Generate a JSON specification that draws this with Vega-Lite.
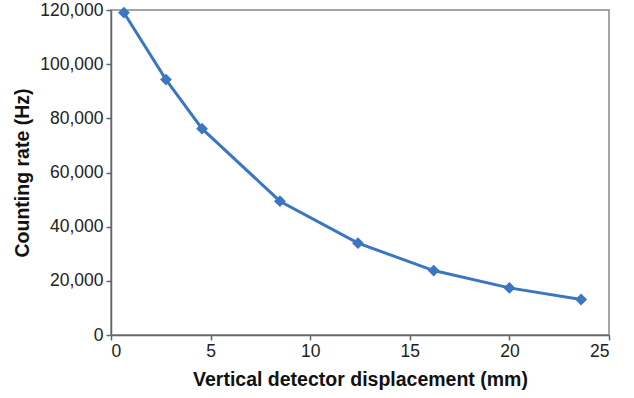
{
  "$schema": "https://vega.github.io/schema/vega-lite/v6.json",
  "autosize": "none",
  "padding": {"left": 111, "top": 10, "right": 25, "bottom": 63},
  "width": 498,
  "height": 325,
  "background": "white",
  "config": {
    "view": {"stroke": "#888888", "strokeWidth": 1.5},
    "axis": {
      "grid": false,
      "domainColor": "#666666",
      "domainWidth": 1.5,
      "tickColor": "#666666",
      "tickWidth": 1.5,
      "tickSize": 5,
      "labelFont": "Liberation Sans",
      "labelFontSize": 17.5,
      "labelColor": "#222222",
      "titleFont": "Liberation Sans",
      "titleFontSize": 19.5,
      "titleFontWeight": "bold",
      "titleColor": "#111111"
    }
  },
  "data": {
    "values": [
      {"x": 0.65, "y": 119000},
      {"x": 2.76, "y": 94300},
      {"x": 4.57, "y": 76200},
      {"x": 8.48, "y": 49400},
      {"x": 12.4, "y": 33900},
      {"x": 16.2, "y": 23800},
      {"x": 20.0, "y": 17400},
      {"x": 23.6, "y": 13100}
    ]
  },
  "layer": [
    {
      "mark": {"type": "line", "color": "#3b77c0", "strokeWidth": 3},
      "encoding": {
        "x": {"field": "x", "type": "quantitative", "scale": {"domain": [0, 25], "nice": false}, "axis": {"values": [0, 5, 10, 15, 20, 25], "title": "Vertical detector displacement (mm)", "labelPadding": 2, "titlePadding": 11}},
        "y": {"field": "y", "type": "quantitative", "scale": {"domain": [0, 120000], "nice": false}, "axis": {"values": [0, 20000, 40000, 60000, 80000, 100000, 120000], "format": ",.0f", "title": "Counting rate (Hz)", "labelPadding": 3, "titlePadding": 7}}
      }
    },
    {
      "mark": {"type": "point", "shape": "diamond", "filled": true, "color": "#3b77c0", "size": 140, "opacity": 1},
      "encoding": {
        "x": {"field": "x", "type": "quantitative"},
        "y": {"field": "y", "type": "quantitative"}
      }
    }
  ]
}
